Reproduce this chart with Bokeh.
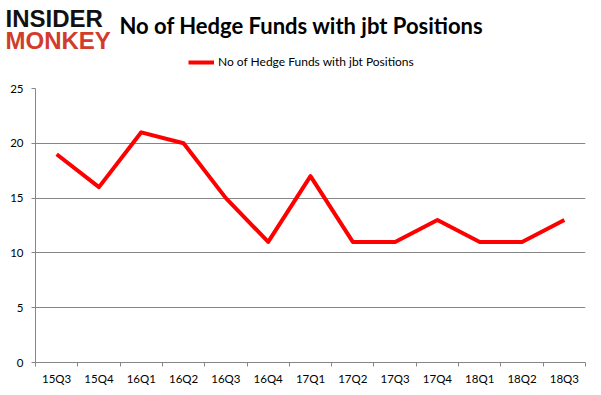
from bokeh.plotting import figure
from bokeh.models import (Range1d, FixedTicker, Label, Legend, LegendItem, ColumnDataSource)
from bokeh.embed import file_html
from bokeh.resources import INLINE

quarters = ["15Q3", "15Q4", "16Q1", "16Q2", "16Q3", "16Q4", "17Q1",
            "17Q2", "17Q3", "17Q4", "18Q1", "18Q2", "18Q3"]
funds = [19, 16, 21, 20, 15, 11, 17, 11, 11, 13, 11, 11, 13]
y_ticks = [0, 5, 10, 15, 20, 25]
title_text = "No of Hedge Funds with jbt Positions"
series_name = "No of Hedge Funds with jbt Positions"

src = ColumnDataSource(dict(x=list(range(len(quarters))), y=funds))

W = 601
HEAD_H = 78
LINE_STYLE = dict(line_color="#ff0000", line_width=4, line_join="round")

# ---------- header (logo, title, legend) ----------
head = figure(width=W, height=HEAD_H, output_backend="svg", toolbar_location=None,
              x_range=Range1d(0, W), y_range=Range1d(HEAD_H, 0),
              x_axis_type=None, y_axis_type=None,
              min_border_left=0, min_border_right=0, min_border_top=0, min_border_bottom=0)
head.outline_line_color = None
head.xgrid.visible = False
head.ygrid.visible = False
head.background_fill_color = "white"
head.border_fill_color = "white"

ghost = head.line("x", "y", source=src, visible=False, **LINE_STYLE)
legend = Legend(items=[LegendItem(label=series_name, renderers=[ghost])],
                location=(188, 9), orientation="horizontal",
                padding=0, margin=0, spacing=0, glyph_width=26, glyph_height=14,
                label_standoff=4, label_text_font="Lato", label_text_font_size="12px",
                label_text_color="#000000", border_line_color=None,
                background_fill_alpha=0, label_height=14)
head.add_layout(legend, "center")

head.add_layout(Label(x=301, y=25, text=title_text, text_font="Lato",
                      text_font_style="bold", text_font_size="22px",
                      text_align="center", text_baseline="middle",
                      text_color="#000000"))
head.add_layout(Label(x=5, y=18, text="INSIDER", text_font="Liberation Sans",
                      text_font_style="bold", text_font_size="24px",
                      text_align="left", text_baseline="middle",
                      text_color="#111111"))
head.add_layout(Label(x=5, y=40, text="MONKEY", text_font="Liberation Sans",
                      text_font_style="bold", text_font_size="24px",
                      text_align="left", text_baseline="middle",
                      text_color="#d13c2c"))

# ---------- main chart ----------
p = figure(frame_width=550, frame_height=274, output_backend="svg", toolbar_location=None,
           x_range=Range1d(-0.5, len(quarters) - 0.5), y_range=Range1d(0, 25),
           min_border_left=35, min_border_right=16, min_border_top=10,
           min_border_bottom=28)
p.outline_line_color = None
p.background_fill_color = "white"
p.border_fill_color = "white"

p.xaxis.ticker = FixedTicker(ticks=list(range(len(quarters))),
                             minor_ticks=[i - 0.5 for i in range(len(quarters) + 1)])
p.xaxis.major_label_overrides = {i: q for i, q in enumerate(quarters)}
p.xaxis.major_tick_line_color = None
p.xaxis.major_tick_in = 0
p.xaxis.major_tick_out = 0
p.xaxis.minor_tick_line_color = "#868686"
p.xaxis.minor_tick_in = 0
p.xaxis.minor_tick_out = 4
p.xaxis.axis_line_color = "#868686"
p.xaxis.major_label_text_font = "Lato"
p.xaxis.major_label_text_font_size = "11.5px"
p.xaxis.major_label_text_color = "#000000"
p.xaxis.major_label_standoff = 5

p.yaxis.ticker = FixedTicker(ticks=y_ticks, minor_ticks=[])
p.yaxis.axis_line_color = "#868686"
p.yaxis.major_tick_line_color = "#868686"
p.yaxis.major_tick_in = 0
p.yaxis.major_tick_out = 4
p.yaxis.minor_tick_line_color = None
p.yaxis.major_label_text_font = "Lato"
p.yaxis.major_label_text_font_size = "11.5px"
p.yaxis.major_label_text_color = "#000000"
p.yaxis.major_label_standoff = 8

p.xgrid.grid_line_color = None
p.ygrid.ticker = FixedTicker(ticks=y_ticks)
p.ygrid.grid_line_color = "#868686"
p.ygrid.grid_line_width = 1

p.line("x", "y", source=src, **LINE_STYLE)

open("out.html", "w").write(file_html([head, p], INLINE))
